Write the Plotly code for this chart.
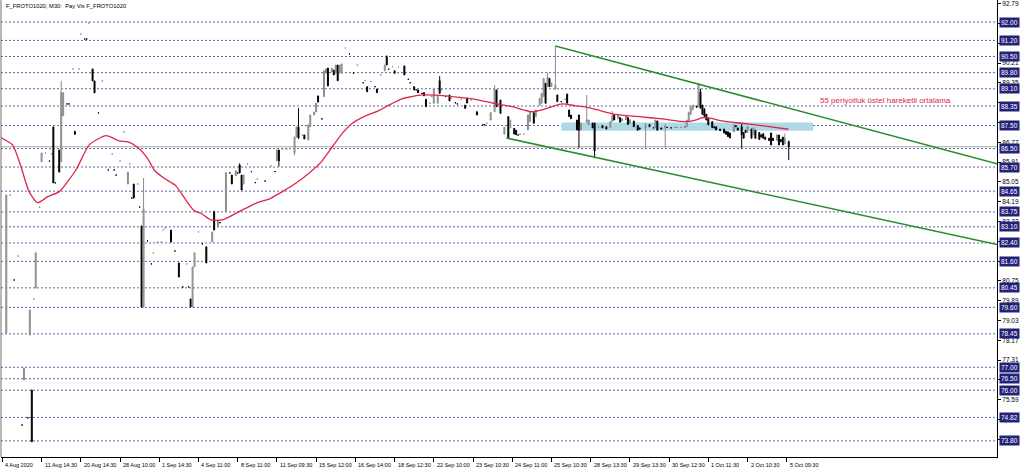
import plotly.graph_objects as go

# ---------------- data (bar index on the M30 time axis) ----------------
bar_index = [2,4,6,8,10,11,13,14,15,16,
             17,19,20,22,24,25,26,27,29,30,
             31,33,34,36,37,39,40,42,43,44,
             46,47,49,51,54,56,57,58,60,62,
             64,65,66,67,69,70,71,72,74,76,
             77,79,81,82,83,86,88,90,92,94,
             95,96,97,98,100,102,104,107,108,110,
             111,114,116,117,119,120,121,122,123,125,
             127,129,130,134,137,139,140,141,143,145,
             149,150,151,153,154,156,157,159,160,161,
             163,164,165,166,168,169,170,171,172,173,
             175,177,179,181,184,185,186,188,190,191,
             193,195,196,197,199,200,202,205,207,208,
             210,211,212,214,215,216,218,219,220,222,
             223,224,226,228,229,231,232,234,236,237,
             239,242,245,246,247,249,251,252,254,256,
             258,259,261,262,263,264,266,268,269,271,
             272,274,275,276,277,278,279,280,282,283,
             285,287,288,289,290,293,294,295,298,299,
             301,302,304,306,308,310,311,312,314,315,
             316,318,319,320,322,324,325,328,330,332,
             333,334,336,338,339,341,343,344,346,348,
             349,350,351,352,354,355,356,357,358,359,
             360,362,363,364,366,368,369,370,371,373,
             374,375,377,378,379,380,382,383,384,386,
             387,388,389,391,392,393,395,396,397,398,399,401]

opens = [78.49,84.48,80.79,81.83,74.49,76.45,74.80,78.40,76.01,79.97,
         80.44,83.96,85.92,86.31,85.96,86.27,87.44,85.01,86.44,85.93,
         87.92,88.44,88.44,89.96,87.25,89.96,91.48,91.26,91.26,91.96,
         89.96,89.44,88.05,89.44,85.57,86.27,85.57,85.35,85.96,87.23,
         84.96,85.83,84.35,84.96,84.96,83.96,83.14,79.62,82.49,81.49,
         81.97,82.44,82.44,82.96,83.05,82.96,82.05,81.53,80.49,81.49,
         80.49,79.97,79.62,81.36,82.88,82.36,82.23,82.44,83.75,83.10,
         83.28,83.76,85.44,85.35,85.32,85.44,85.79,85.35,84.96,85.83,
         85.50,85.02,85.18,85.09,85.74,85.50,85.97,86.44,86.48,86.48,
         86.31,87.00,87.44,87.09,87.09,86.87,87.44,87.96,88.09,88.79,
         87.79,88.76,89.78,90.00,89.83,89.91,89.78,90.13,89.78,89.78,
         90.87,90.61,89.78,90.13,89.36,89.45,89.19,89.41,89.19,89.09,
         89.70,89.88,90.49,89.95,90.06,89.88,90.03,90.09,89.51,89.36,
         89.19,89.05,89.05,88.90,88.93,88.64,88.47,88.76,88.47,88.47,
         89.45,89.05,88.76,88.83,88.69,88.49,88.44,88.64,88.39,88.70,
         88.61,88.10,87.53,87.53,87.60,87.74,88.10,89.05,88.61,87.13,
         87.89,87.40,87.38,87.30,87.09,87.13,87.13,87.31,87.67,88.06,
         87.89,88.39,88.47,88.76,89.34,89.19,89.55,89.20,89.10,88.83,
         88.54,88.64,88.87,88.18,87.96,87.74,87.96,87.31,87.67,87.53,
         87.61,87.61,87.44,87.50,87.45,87.41,87.67,87.96,87.80,87.85,
         87.70,87.75,87.85,87.60,87.70,87.50,87.40,87.40,87.55,87.40,
         87.40,87.70,87.40,87.40,87.42,87.40,87.42,87.42,87.42,87.40,
         87.45,87.67,87.99,88.18,88.35,88.32,88.97,88.39,88.20,87.99,
         87.83,87.67,87.45,87.45,87.35,87.35,87.25,87.23,87.18,87.23,
         87.50,87.40,87.45,87.20,87.30,87.20,87.35,87.10,87.30,87.20,
         87.10,87.15,87.00,86.95,87.18,86.95,86.85,87.09,86.90,87.00,86.70,86.80]

highs = [84.48,84.48,80.79,81.83,74.49,76.97,74.80,79.49,76.01,79.97,
         81.97,83.96,86.31,86.31,85.96,86.27,87.44,85.01,86.44,89.45,
         88.93,88.44,88.44,89.96,87.25,89.96,91.48,91.26,91.26,91.96,
         89.96,89.44,88.05,89.44,85.57,86.27,85.57,85.35,85.96,87.23,
         85.48,85.83,84.35,84.96,84.96,83.96,83.14,85.22,82.49,81.49,
         81.97,82.44,82.44,82.96,83.05,82.96,82.05,81.53,80.49,81.49,
         80.49,79.97,81.36,81.97,82.88,82.36,82.23,82.88,83.80,83.40,
         83.28,85.45,85.44,85.35,85.54,85.44,85.86,85.35,85.35,85.83,
         85.50,85.02,85.18,85.09,85.74,85.50,86.44,86.44,86.48,86.48,
         87.00,87.44,88.26,87.09,87.09,87.53,87.96,88.09,88.48,88.79,
         87.79,89.88,89.96,90.00,90.00,89.91,90.13,90.13,90.13,90.18,
         90.87,90.61,89.78,90.13,89.36,89.45,89.19,89.41,89.19,89.09,
         89.70,90.13,90.55,89.95,90.06,89.88,90.03,90.09,89.51,89.36,
         89.19,89.05,89.05,88.90,88.93,88.64,88.47,88.76,89.12,88.83,
         89.65,89.05,88.76,88.83,88.69,88.49,88.44,88.64,88.39,88.70,
         88.61,88.10,87.53,87.53,87.60,88.06,89.26,89.05,88.61,87.43,
         87.89,87.74,87.38,87.30,87.09,87.13,87.13,87.96,88.10,88.06,
         88.18,88.68,88.90,89.55,89.34,89.80,89.55,89.35,90.96,88.83,
         88.54,88.64,88.87,88.18,87.96,87.74,87.96,87.61,88.83,87.74,
         87.61,87.61,87.44,87.50,87.45,87.67,88.13,87.96,87.95,87.85,
         87.80,87.95,87.85,87.75,87.70,87.50,87.40,87.61,87.55,87.40,
         87.74,87.70,87.40,87.57,87.42,87.40,87.42,87.42,87.42,87.48,
         87.74,88.08,88.32,88.39,88.35,89.34,89.10,88.39,88.26,87.99,
         87.83,87.67,87.45,87.45,87.35,87.35,87.25,87.23,87.18,87.53,
         87.50,87.40,87.61,87.20,87.30,87.45,87.35,87.40,87.30,87.20,
         87.10,87.15,87.00,86.95,87.18,86.95,87.10,87.09,86.90,87.00,87.15,86.85]

lows = [78.49,84.48,80.79,81.83,74.49,76.45,74.80,78.40,73.76,79.97,
        80.44,83.96,85.92,86.31,85.96,86.27,85.01,85.01,85.48,85.93,
        87.92,88.44,88.44,89.96,87.12,89.96,91.48,91.26,91.26,91.96,
        89.44,88.92,88.05,89.44,85.57,86.27,85.57,85.35,85.96,87.23,
        84.96,85.83,84.35,84.35,84.96,83.96,79.62,79.62,82.49,81.49,
        81.97,82.44,82.44,82.96,83.05,82.44,82.05,80.92,80.49,81.49,
        80.49,79.62,79.62,81.36,82.88,82.36,81.53,82.44,82.96,83.10,
        83.28,83.76,85.44,84.96,85.32,85.44,85.44,84.70,84.96,85.83,
        85.50,85.02,85.18,85.09,85.74,85.50,85.97,85.72,86.48,86.48,
        86.20,87.00,86.92,87.09,86.92,86.87,87.44,87.96,88.09,88.52,
        87.79,88.76,89.78,89.22,89.83,89.70,89.78,89.45,89.78,89.78,
        90.87,90.61,89.78,90.13,89.36,89.45,88.97,89.41,89.19,88.93,
        89.70,89.88,90.13,89.95,90.06,89.77,90.03,89.70,89.51,89.36,
        89.05,89.05,88.93,88.90,88.79,88.32,88.47,88.76,88.47,88.47,
        88.90,89.05,88.76,88.57,88.69,88.49,88.44,88.64,88.25,88.48,
        88.61,87.96,87.53,87.53,87.60,87.74,88.10,88.32,88.03,87.13,
        86.95,87.40,87.13,87.10,87.09,87.13,87.13,87.31,87.67,87.60,
        87.89,88.39,88.47,88.76,88.47,89.19,89.19,89.20,89.05,88.54,
        88.54,88.64,88.47,87.89,87.80,87.31,86.53,87.31,87.60,87.53,
        87.40,86.08,87.44,87.40,87.35,87.41,87.67,87.74,87.80,87.65,
        87.70,87.75,87.55,87.60,87.45,87.30,87.35,86.53,87.45,87.40,
        87.40,87.30,87.35,86.54,87.42,87.40,87.42,87.42,87.42,87.40,
        87.45,87.67,87.99,88.18,88.30,88.32,88.25,87.99,87.90,87.74,
        87.53,87.41,87.40,87.31,87.28,87.18,87.12,87.02,86.96,87.23,
        87.45,87.30,86.51,86.95,87.20,87.20,86.95,87.10,86.95,86.90,
        87.00,86.95,86.90,86.85,86.66,86.85,86.85,86.66,86.80,86.66,86.70,86.00]

closes = [84.48,84.48,80.79,81.83,74.49,76.97,74.80,79.49,73.76,79.97,
          81.97,83.96,86.31,86.31,85.96,86.27,85.01,85.01,85.48,88.93,
          88.93,88.44,88.44,89.96,87.12,89.96,91.48,91.26,91.26,91.96,
          89.44,88.92,88.05,89.44,85.57,86.27,85.57,85.35,85.96,87.23,
          85.48,85.83,84.35,84.35,84.96,83.96,79.62,83.88,82.49,81.49,
          81.97,82.44,82.44,82.96,83.05,82.44,82.05,80.92,80.49,81.49,
          80.49,79.62,81.36,81.97,82.88,82.36,81.53,82.88,82.96,83.40,
          83.28,85.45,85.44,84.96,85.54,85.44,85.44,84.70,85.35,85.83,
          85.50,85.02,85.18,85.09,85.74,85.50,86.44,85.97,86.48,86.48,
          87.00,87.44,86.96,87.09,86.92,87.53,87.96,88.09,88.48,88.52,
          87.79,89.88,89.96,89.22,90.00,89.70,90.13,89.45,90.13,90.18,
          90.87,90.61,89.78,90.13,89.36,89.45,88.97,89.41,89.19,88.93,
          89.70,90.13,90.13,89.95,90.06,89.77,90.03,89.70,89.51,89.36,
          89.05,89.05,88.93,88.90,88.79,88.32,88.47,88.76,89.12,88.83,
          88.90,89.05,88.76,88.57,88.69,88.49,88.44,88.64,88.25,88.48,
          88.61,87.96,87.53,87.53,87.60,88.06,89.08,88.32,88.03,87.43,
          86.95,87.74,87.13,87.10,87.09,87.13,87.13,87.96,88.10,87.60,
          88.18,88.68,88.90,89.55,88.47,89.60,89.19,89.35,89.25,88.54,
          88.54,88.64,88.47,87.89,87.80,87.31,87.30,87.61,87.75,87.74,
          87.40,86.40,87.44,87.40,87.35,87.67,87.90,87.74,87.95,87.65,
          87.80,87.95,87.55,87.75,87.45,87.30,87.35,87.50,87.45,87.40,
          87.74,87.30,87.35,87.48,87.42,87.40,87.42,87.42,87.42,87.48,
          87.74,88.08,88.32,88.39,88.30,89.29,88.25,87.99,87.90,87.74,
          87.53,87.41,87.40,87.31,87.28,87.18,87.12,87.02,86.96,87.53,
          87.45,87.30,87.10,86.95,87.20,87.45,86.95,87.40,86.95,86.90,
          87.00,86.95,86.90,86.85,86.66,86.85,87.10,86.66,86.80,86.66,86.95,86.58]

# 55-period exponential moving average
ema_index = [-0.7,5.2,9.5,13.6,18.0,23.1,29.0,37.5,44.3,52.8,
             59.6,63.8,68.9,74.0,77.4,82.5,88.4,93.5,97.8,101.2,
             106.3,112.2,120.7,129.2,136.8,142.8,149.6,156.3,162.3,168.3,
             173.4,178.5,185.2,192.0,197.1,203.1,207.1,214.1,226.0,234.5,
             243.0,250.5,260.0,270.2,275.2,280.3,285.4,292.2,299.0,304.9,
             312.6,324.5,336.4,348.3,353.4,356.7,361.0,367.0,377.1,387.3,400.8]
ema_values = [86.97,86.66,85.71,84.63,84.15,84.41,84.63,85.57,86.66,87.06,
              86.83,86.80,86.56,86.08,85.57,85.21,84.89,84.27,83.80,83.69,
              83.40,83.40,83.76,84.12,84.34,84.63,84.99,85.43,85.89,86.58,
              87.17,87.60,87.92,88.15,88.39,88.64,88.73,88.83,88.79,88.71,
              88.61,88.47,88.32,88.10,88.18,88.32,88.44,88.36,88.28,88.15,
              87.99,87.89,87.79,87.67,87.74,87.84,87.82,87.70,87.60,87.50,87.34]

# user drawn objects
level_lines = [92.00, 91.20, 90.50, 89.80, 89.10, 88.35, 87.50, 86.50, 85.70, 84.65,
               83.75, 83.10, 82.40, 81.60, 80.45, 79.60, 78.45, 77.00, 76.50, 76.00,
               74.82, 73.80]
bid_price = 86.58
zone_index = [285.1, 413.4]
zone_price = [87.28, 87.63]
upper_channel_index = [282, 507.2]
upper_channel_price = [90.96, 85.84]
lower_channel_index = [257, 507.2]
lower_channel_price = [86.96, 82.33]

# axes
y_tick_values = [92.79, 91.93, 91.07, 90.21, 89.35, 88.49, 87.63, 86.77, 85.91, 85.05,
                 84.19, 83.33, 82.47, 81.61, 80.75, 79.89, 79.03, 78.17, 77.31, 76.45,
                 75.59, 74.73, 73.87]
x_tick_index = [0, 20, 40, 60, 80, 100, 120, 140, 160, 180, 200, 220, 240, 260, 280,
                300, 320, 340, 360, 380, 400]
x_tick_labels = ["4 Aug 2020", "11 Aug 14:30", "20 Aug 14:30", "28 Aug 10:00", "1 Sep 14:30",
                 "4 Sep 11:00", "8 Sep 11:00", "11 Sep 09:30", "15 Sep 12:00", "16 Sep 14:00",
                 "18 Sep 12:30", "22 Sep 10:00", "23 Sep 10:30", "24 Sep 11:00", "25 Sep 10:30",
                 "28 Sep 13:30", "29 Sep 13:30", "30 Sep 12:30", "1 Oct 11:30", "2 Oct 10:30",
                 "5 Oct 09:30"]
x_range = [-0.7, 507.2]
y_range = [73.10, 92.956]

FONT = "Liberation Sans"
PLOT_H = 457  # plot area height in px, used to hide tick labels covered by level boxes
px_per_unit = PLOT_H / (y_range[1] - y_range[0])

# tick labels that are fully hidden behind a boxed level label stay blank
y_tick_text = []
for v in y_tick_values:
    gap = min(abs(v - lv) for lv in level_lines) * px_per_unit
    y_tick_text.append(f"{v:.2f}" if gap > 4.5 else "")

fig = go.Figure()

# light-blue zone (background)
fig.add_shape(type="rect", xref="x", yref="y",
              x0=zone_index[0], x1=zone_index[1], y0=zone_price[0], y1=zone_price[1],
              fillcolor="#ADD8E6", line=dict(width=0), layer="below")

# horizontal level lines
for lv in level_lines:
    fig.add_shape(type="line", xref="paper", yref="y", x0=0, x1=1, y0=lv, y1=lv,
                  line=dict(color="#6262B0", width=1, dash="2px,2px"), layer="below")

# bid line
fig.add_shape(type="line", xref="paper", yref="y", x0=0, x1=1, y0=bid_price, y1=bid_price,
              line=dict(color="#A8A8A8", width=1), layer="below")

# left frame line
fig.add_shape(type="line", xref="paper", yref="paper", x0=0, x1=0, y0=0, y1=1,
              line=dict(color="#707070", width=1))

# candles
fig.add_trace(go.Candlestick(
    x=bar_index, open=opens, high=highs, low=lows, close=closes,
    increasing=dict(fillcolor="#BEBEBE", line=dict(color="#8A8A8A", width=1)),
    decreasing=dict(fillcolor="#000000", line=dict(color="#000000", width=1)),
    whiskerwidth=0, showlegend=False, hoverinfo="skip"))

# EMA
fig.add_trace(go.Scatter(x=ema_index, y=ema_values, mode="lines",
                         line=dict(color="#E0254A", width=1.3, shape="spline", smoothing=0.6),
                         showlegend=False, hoverinfo="skip"))

# channel lines
fig.add_trace(go.Scatter(x=upper_channel_index, y=upper_channel_price, mode="lines",
                         line=dict(color="#2E8B2E", width=1.5), showlegend=False, hoverinfo="skip"))
fig.add_trace(go.Scatter(x=lower_channel_index, y=lower_channel_price, mode="lines",
                         line=dict(color="#2E8B2E", width=1.5), showlegend=False, hoverinfo="skip"))

annotations = []
# boxed price labels on the right axis
for lv in level_lines:
    annotations.append(dict(xref="paper", yref="y", x=1, y=lv, xanchor="left", yanchor="middle",
                            xshift=2, text=f"{lv:.2f}", showarrow=False,
                            font=dict(family=FONT, size=6.5, color="white"),
                            bgcolor="#22227A", borderpad=1))
# time labels
for xi, lab in zip(x_tick_index, x_tick_labels):
    annotations.append(dict(xref="x", yref="paper", x=xi, y=0, xanchor="left", yanchor="top",
                            xshift=1, yshift=-3, text=lab, showarrow=False,
                            font=dict(family=FONT, size=5.5, color="black")))
# title
annotations.append(dict(xref="paper", yref="paper", x=0, y=1, xanchor="left", yanchor="top",
                        xshift=3, yshift=-1, text="F_FROTO1020, M30:  Pay Vis F_FROTO1020",
                        showarrow=False, font=dict(family=FONT, size=5.8, color="black")))
# indicator label
annotations.append(dict(xref="x", yref="y", x=416, y=88.61, xanchor="left", yanchor="middle",
                        text="55 periyotluk üstel hareketli ortalama", showarrow=False,
                        font=dict(family=FONT, size=8, color="#E0254A")))

fig.update_layout(
    width=1024, height=473,
    margin=dict(l=1, r=27, t=0, b=16),
    paper_bgcolor="white", plot_bgcolor="white",
    annotations=annotations,
    showlegend=False,
    xaxis=dict(range=x_range, showgrid=False, zeroline=False, rangeslider=dict(visible=False),
               tickmode="array", tickvals=x_tick_index, showticklabels=False,
               ticks="outside", ticklen=4, tickcolor="black",
               showline=True, linecolor="black", linewidth=1),
    yaxis=dict(range=y_range, side="right", showgrid=False, zeroline=False,
               tickmode="array", tickvals=y_tick_values, ticktext=y_tick_text,
               tickfont=dict(family=FONT, size=6.5, color="black"),
               ticks="outside", ticklen=3, tickcolor="black",
               showline=True, linecolor="black", linewidth=1, automargin=False),
)

fig.write_html("out.html",
               config={"displayModeBar": False, "staticPlot": True},
               post_script="document.body.style.margin='0';document.body.style.overflow='hidden';")
